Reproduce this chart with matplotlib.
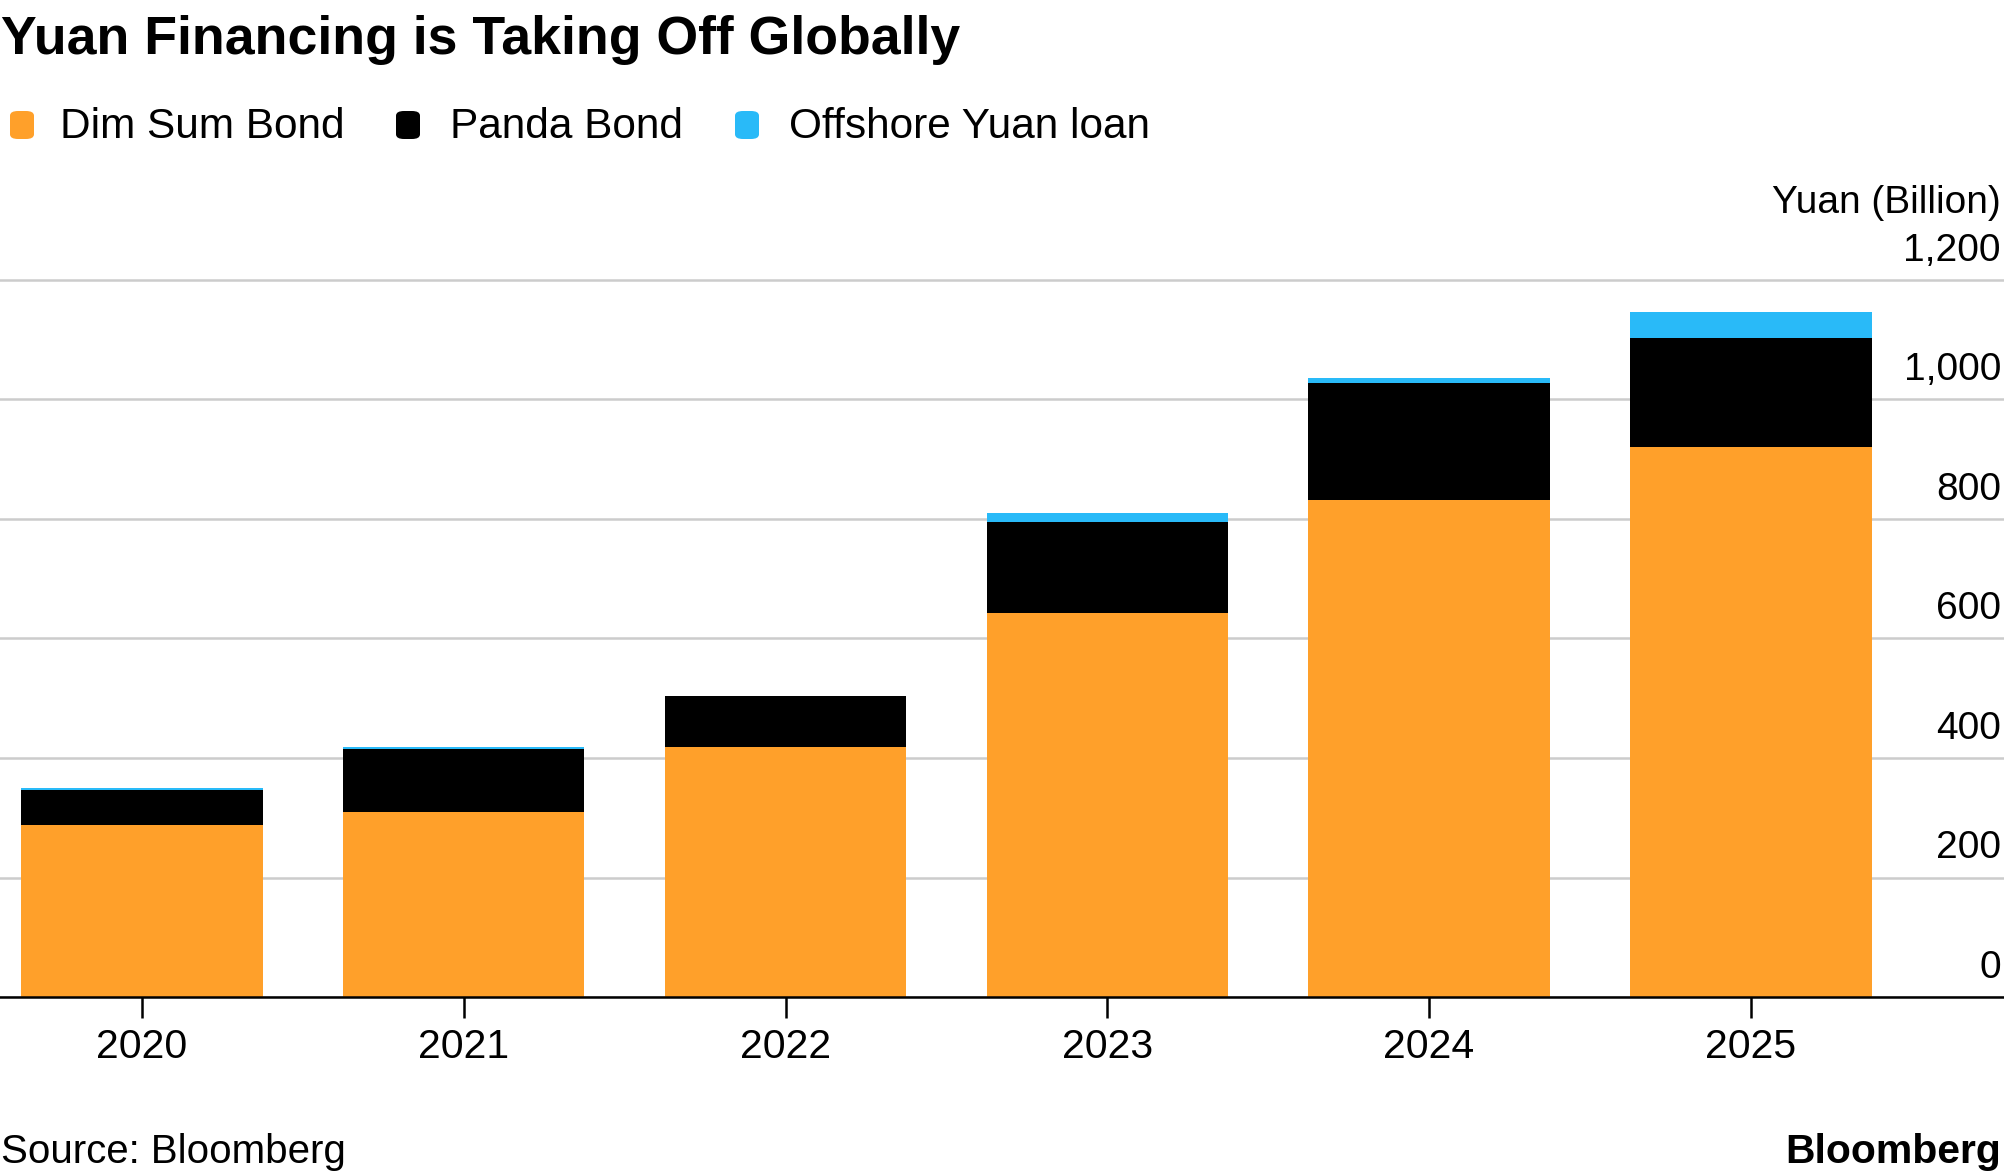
import matplotlib
matplotlib.use("Agg")
import matplotlib.pyplot as plt
import matplotlib.transforms as mtransforms
from matplotlib.patches import FancyBboxPatch

plt.rcParams['font.family'] = ['Liberation Sans', 'DejaVu Sans']

# data (billion yuan)
years = ['2020', '2021', '2022', '2023', '2024', '2025']
dim_sum = [288, 309, 418, 642, 832, 920]
panda = [58, 106, 85, 153, 195, 183]
offshore = [3, 4, 0, 15, 9, 43]
series_names = ['Dim Sum Bond', 'Panda Bond', 'Offshore Yuan loan']
colors = ['#FFA02A', '#000000', '#29BAF8']
yticks = [0, 200, 400, 600, 800, 1000, 1200]

W, H = 2004, 1176
fig = plt.figure(figsize=(W / 100, H / 100), dpi=100)

# axes geometry in pixels: baseline at y=997, 200 units = 119.5 px
px_per_unit = 119.5 / 200
ymax = 1230
bottom_px = 997
ax_h = ymax * px_per_unit
ax = fig.add_axes([0, 1 - bottom_px / H, 1, ax_h / H])

x = list(range(len(years)))
bottom2 = [a + b for a, b in zip(dim_sum, panda)]
ax.bar(x, dim_sum, width=0.75, color=colors[0], zorder=3)
ax.bar(x, panda, width=0.75, bottom=dim_sum, color=colors[1], zorder=3)
ax.bar(x, offshore, width=0.75, bottom=bottom2, color=colors[2], zorder=3)

spacing_px = 321.8
first_px = 141.9
ax.set_xlim(-first_px / spacing_px, (W - first_px) / spacing_px)
ax.set_ylim(0, ymax)

for s in ['top', 'right', 'left']:
    ax.spines[s].set_visible(False)
ax.spines['bottom'].set_linewidth(1.8)
ax.spines['bottom'].set_zorder(4)

ax.set_yticks(yticks)
ax.yaxis.grid(True, color='#cccccc', linewidth=1.8, zorder=0)
ax.tick_params(axis='y', length=0, labelleft=False)

ax.set_xticks(x)
ax.set_xticklabels(years, fontsize=29.5)
ax.tick_params(axis='x', length=15, width=1.8, pad=7, color='black')

# y labels sit above their gridlines at the right edge
lab_tr = mtransforms.offset_copy(ax.get_yaxis_transform(), fig=fig, x=-3, y=19, units='dots')
for v in yticks:
    ax.text(1, v, f'{v:,}', transform=lab_tr, ha='right', va='baseline', fontsize=28)

fig.text(2001 / W, 1 - 213 / H, 'Yuan (Billion)', ha='right', va='baseline', fontsize=28)

# title
fig.text(1 / W, 1 - 54 / H, 'Yuan Financing is Taking Off Globally', ha='left', va='baseline',
         fontsize=38.6, fontweight='bold')

# legend
sq_x = [10, 396, 735]
txt_x = [60, 450, 789]
for name, c, sx, tx in zip(series_names, colors, sq_x, txt_x):
    box = FancyBboxPatch((sx / W, 1 - 139 / H), 24 / W, 28 / H,
                         boxstyle='round,pad=0,rounding_size=0.004',
                         transform=fig.transFigure, facecolor=c, edgecolor='none')
    fig.patches.append(box)
    fig.text(tx / W, 1 - 138 / H, name, ha='left', va='baseline', fontsize=30.5)

# footer
fig.text(1 / W, 1 - 1163 / H, 'Source: Bloomberg', ha='left', va='baseline', fontsize=29)
fig.text(2001 / W, 1 - 1163 / H, 'Bloomberg', ha='right', va='baseline', fontsize=29.4,
         fontweight='bold')

plt.savefig('out.png', dpi=100)
